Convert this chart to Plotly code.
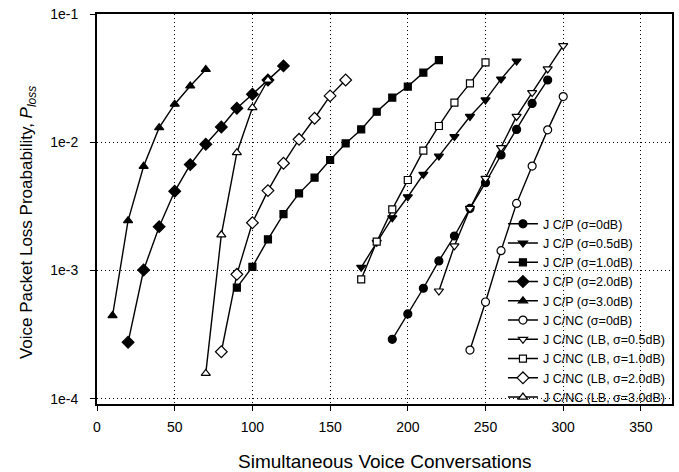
import plotly.graph_objects as go

# Data
x_cp0 = [190, 200, 210, 220, 230, 240, 250, 260, 270, 280, 290]
y_cp0 = [0.000291, 0.000459, 0.000728, 0.00119, 0.00186, 0.00305, 0.00484, 0.00796, 0.0126, 0.0201, 0.0306]

x_cp05 = [170, 180, 190, 200, 210, 220, 230, 240, 250, 260, 270]
y_cp05 = [0.00106, 0.00166, 0.00258, 0.00376, 0.00563, 0.0078, 0.01107, 0.0159, 0.0214, 0.0311, 0.043]

x_cp10 = [90, 100, 110, 120, 130, 140, 150, 160, 170, 180, 190, 200, 210, 220]
y_cp10 = [0.000736, 0.00107, 0.00175, 0.00275, 0.0040, 0.0053, 0.00728, 0.0098, 0.0126, 0.0173, 0.0223, 0.0272, 0.0349, 0.0437]

x_cp20 = [20, 30, 40, 50, 60, 70, 80, 90, 100, 110, 120]
y_cp20 = [0.000276, 0.00101, 0.0022, 0.00415, 0.0067, 0.00965, 0.01315, 0.0184, 0.0237, 0.0306, 0.0394]

x_cp30 = [10, 20, 30, 40, 50, 60, 70]
y_cp30 = [0.000446, 0.00245, 0.0065, 0.013, 0.0198, 0.0275, 0.037]

x_cnc0 = [240, 250, 260, 270, 280, 290, 300]
y_cnc0 = [0.00024, 0.000569, 0.00143, 0.00334, 0.00653, 0.0125, 0.0227]

x_cnc05 = [220, 230, 240, 250, 260, 270, 280, 290, 300]
y_cnc05 = [0.000693, 0.00156, 0.00305, 0.00524, 0.00908, 0.0159, 0.0244, 0.0373, 0.0567]

x_cnc10 = [170, 180, 190, 200, 210, 220, 230, 240, 250]
y_cnc10 = [0.000855, 0.00168, 0.0030, 0.00508, 0.0086, 0.0134, 0.0204, 0.0288, 0.042]

x_cnc20 = [80, 90, 100, 110, 120, 130, 140, 150, 160]
y_cnc20 = [0.000233, 0.000935, 0.00236, 0.0042, 0.00686, 0.01055, 0.0154, 0.023, 0.0306]

x_cnc30 = [70, 80, 90, 100, 110]
y_cnc30 = [0.000158, 0.0019, 0.0083, 0.0186, 0.0306]

x_ticks = [0, 50, 100, 150, 200, 250, 300, 350]
y_ticks = [1e-4, 1e-3, 1e-2, 1e-1]
y_ticklabels = ["1e-4", "1e-3", "1e-2", "1e-1"]

series = [
    ("J C/P (σ=0dB)", x_cp0, y_cp0, "circle", True),
    ("J C/P (σ=0.5dB)", x_cp05, y_cp05, "triangle-down", True),
    ("J C/P (σ=1.0dB)", x_cp10, y_cp10, "square", True),
    ("J C/P (σ=2.0dB)", x_cp20, y_cp20, "diamond", True),
    ("J C/P (σ=3.0dB)", x_cp30, y_cp30, "triangle-up", True),
    ("J C/NC (σ=0dB)", x_cnc0, y_cnc0, "circle", False),
    ("J C/NC (LB, σ=0.5dB)", x_cnc05, y_cnc05, "triangle-down", False),
    ("J C/NC (LB, σ=1.0dB)", x_cnc10, y_cnc10, "square", False),
    ("J C/NC (LB, σ=2.0dB)", x_cnc20, y_cnc20, "diamond", False),
    ("J C/NC (LB, σ=3.0dB)", x_cnc30, y_cnc30, "triangle-up", False),
]

fig = go.Figure()
for name, xs, ys, sym, filled in series:
    size = 8
    if sym == "square":
        size = 7
    if sym == "diamond":
        size = 9
    fig.add_trace(go.Scatter(
        x=xs, y=ys, name=name, mode="lines+markers",
        line=dict(color="black", width=1.4),
        marker=dict(symbol=sym, size=size,
                    color="black" if filled else "white",
                    line=dict(color="black", width=1.2)),
    ))

font_family = "Liberation Sans, Arial, sans-serif"
grid_dash = "1px,3px"

fig.update_layout(
    width=679, height=472,
    margin=dict(l=97, r=5, t=14, b=68),
    paper_bgcolor="white", plot_bgcolor="white",
    font=dict(family=font_family, color="black", size=13),
    showlegend=True,
    legend=dict(
        x=0.706, y=-0.021, xanchor="left", yanchor="bottom",
        bgcolor="rgba(0,0,0,0)", borderwidth=0,
        font=dict(size=12.5, family=font_family, color="black"),
        tracegroupgap=0, itemwidth=30,
    ),
    xaxis=dict(
        range=[0, 370], tickvals=x_ticks,
        showgrid=True, gridcolor="black", griddash=grid_dash, gridwidth=1,
        showline=True, linecolor="black", linewidth=2, mirror=True,
        ticks="outside", ticklen=5, tickcolor="black",
        tickfont=dict(size=14), ticklabelstandoff=4,
        zeroline=False,
    ),
    yaxis=dict(
        type="log", range=[-4.04, -1.0],
        tickvals=y_ticks, ticktext=y_ticklabels,
        showgrid=True, gridcolor="black", griddash=grid_dash, gridwidth=1,
        showline=True, linecolor="black", linewidth=2, mirror=True,
        ticks="outside", ticklen=5, tickcolor="black",
        tickfont=dict(size=14), ticklabelstandoff=9,
        zeroline=False,
    ),
    annotations=[
        dict(
            text="Voice Packet Loss Proabability, <i>P</i><sub><i>loss</i></sub>",
            xref="paper", yref="paper", x=0, y=0.464,
            xanchor="center", yanchor="middle", xshift=-69,
            textangle=-90, showarrow=False,
            font=dict(size=17, family=font_family, color="black"),
        ),
        dict(
            text="Simultaneous Voice Conversations",
            xref="paper", yref="paper", x=0.5, y=0,
            xanchor="center", yanchor="middle", yshift=-57,
            showarrow=False,
            font=dict(size=19, family=font_family, color="black"),
        ),
    ],
)

fig.write_html("out.html")
